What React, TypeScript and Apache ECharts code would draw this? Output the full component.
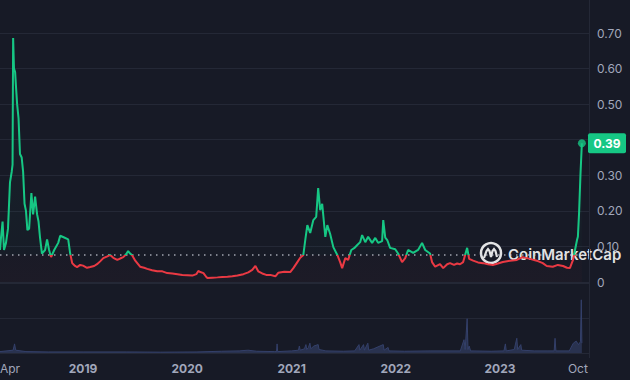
import React, { useEffect, useRef } from "react";
import * as echarts from "echarts";

const dates = [
  "2018-03-16","2018-03-19","2018-03-25","2018-03-30","2018-04-06","2018-04-13","2018-04-20","2018-04-26","2018-04-29","2018-05-01",
  "2018-05-04","2018-05-08","2018-05-11","2018-05-15","2018-05-20","2018-05-25","2018-05-31","2018-06-05","2018-06-10","2018-06-15",
  "2018-06-20","2018-06-26","2018-07-04","2018-07-10","2018-07-17","2018-07-24","2018-07-29","2018-08-03","2018-08-10","2018-08-21",
  "2018-08-28","2018-09-04","2018-09-11","2018-09-22","2018-10-06","2018-10-13","2018-10-27","2018-11-10","2018-11-17","2018-11-24",
  "2018-12-04","2018-12-11","2018-12-22","2019-01-01","2019-01-15","2019-01-26","2019-02-09","2019-02-19","2019-03-02","2019-03-13",
  "2019-03-27","2019-04-06","2019-04-17","2019-05-01","2019-05-11","2019-05-22","2019-06-01","2019-06-08","2019-06-15","2019-06-22",
  "2019-07-03","2019-07-10","2019-07-20","2019-08-03","2019-08-14","2019-08-31","2019-09-18","2019-10-06","2019-10-23","2019-11-10",
  "2019-11-28","2019-12-15","2020-01-02","2020-01-19","2020-02-02","2020-02-09","2020-02-16","2020-02-27","2020-03-08","2020-03-12",
  "2020-03-29","2020-04-16","2020-05-03","2020-05-21","2020-06-07","2020-06-25","2020-07-16","2020-08-02","2020-08-16","2020-08-27",
  "2020-09-06","2020-09-20","2020-10-04","2020-10-18","2020-11-05","2020-11-15","2020-12-06","2020-12-27","2021-01-07","2021-01-21",
  "2021-01-31","2021-02-11","2021-02-18","2021-02-25","2021-03-07","2021-03-18","2021-03-28","2021-04-04","2021-04-11","2021-04-18",
  "2021-04-29","2021-05-06","2021-05-16","2021-05-27","2021-06-10","2021-06-20","2021-06-27","2021-07-08","2021-07-18","2021-07-29",
  "2021-08-08","2021-08-19","2021-08-29","2021-09-05","2021-09-16","2021-09-26","2021-10-10","2021-10-21","2021-10-31","2021-11-14",
  "2021-11-18","2021-11-25","2021-12-02","2021-12-12","2021-12-30","2022-01-09","2022-01-23","2022-02-03","2022-02-13","2022-03-03",
  "2022-03-20","2022-04-03","2022-04-14","2022-05-01","2022-05-08","2022-05-19","2022-06-05","2022-06-16","2022-06-30","2022-07-10",
  "2022-07-24","2022-08-04","2022-08-14","2022-08-25","2022-09-08","2022-09-15","2022-09-29","2022-10-16","2022-11-03","2022-11-20",
  "2022-12-07","2022-12-25","2023-01-11","2023-02-05","2023-03-01","2023-03-22","2023-04-16","2023-05-10","2023-05-31","2023-06-14",
  "2023-07-05","2023-07-23","2023-08-10","2023-08-24","2023-09-03","2023-09-14","2023-09-21","2023-09-28","2023-10-01","2023-10-05",
  "2023-10-10","2023-10-15"
];

const prices = [
  0.09,0.12,0.17,0.09,0.11,0.15,0.28,0.31,0.33,0.686,
  0.6,0.59,0.55,0.5,0.46,0.36,0.35,0.31,0.22,0.2,
  0.146,0.15,0.25,0.19,0.24,0.19,0.17,0.127,0.08,0.09,
  0.12,0.09,0.07,0.09,0.11,0.13,0.125,0.12,0.08,0.053,
  0.045,0.042,0.048,0.046,0.04,0.042,0.045,0.05,0.058,0.067,
  0.072,0.076,0.068,0.062,0.066,0.07,0.078,0.087,0.08,0.075,
  0.06,0.053,0.043,0.04,0.037,0.033,0.03,0.03,0.025,0.024,
  0.022,0.02,0.019,0.018,0.022,0.031,0.028,0.025,0.014,0.011,
  0.012,0.013,0.014,0.015,0.016,0.018,0.022,0.027,0.034,0.045,
  0.03,0.024,0.02,0.02,0.016,0.026,0.029,0.028,0.039,0.056,
  0.068,0.076,0.12,0.16,0.138,0.174,0.183,0.264,0.202,0.22,
  0.127,0.16,0.135,0.098,0.076,0.056,0.039,0.067,0.062,0.09,
  0.095,0.104,0.112,0.132,0.112,0.127,0.11,0.124,0.11,0.115,
  0.174,0.125,0.118,0.096,0.092,0.08,0.056,0.067,0.09,0.082,
  0.09,0.11,0.09,0.08,0.056,0.043,0.05,0.039,0.05,0.053,
  0.048,0.052,0.05,0.056,0.096,0.065,0.06,0.055,0.053,0.05,
  0.048,0.052,0.056,0.06,0.062,0.07,0.065,0.06,0.053,0.045,
  0.043,0.048,0.045,0.04,0.039,0.062,0.09,0.118,0.127,0.19,
  0.3,0.39
];

const volDates = [
  "2018-03-16","2018-05-01","2018-05-06","2018-05-10","2018-06-15","2018-09-01","2019-01-01","2019-06-01","2019-10-01","2020-02-01",
  "2020-05-01","2020-07-01","2020-08-01","2020-09-01","2020-11-01","2020-11-09","2020-11-11","2020-11-13","2021-01-01","2021-01-25",
  "2021-01-28","2021-01-31","2021-02-15","2021-02-20","2021-02-23","2021-03-01","2021-03-06","2021-03-09","2021-03-20","2021-04-04",
  "2021-04-07","2021-05-01","2021-07-01","2021-08-10","2021-08-25","2021-08-28","2021-09-10","2021-09-13","2021-09-25","2021-09-28",
  "2021-10-15","2021-11-18","2021-11-21","2021-12-05","2021-12-08","2022-02-01","2022-05-01","2022-08-15","2022-08-28","2022-09-01",
  "2022-09-08","2022-09-11","2022-09-15","2022-09-20","2022-12-01","2023-01-15","2023-01-20","2023-01-23","2023-02-20","2023-03-01",
  "2023-03-04","2023-03-15","2023-03-18","2023-05-01","2023-06-15","2023-07-10","2023-07-13","2023-07-16","2023-09-01","2023-09-15",
  "2023-09-25","2023-10-03","2023-10-10","2023-10-13","2023-10-15"
];

const volumes = [
  2,4,13,4,2,1.5,1.5,1.5,1.2,1.5,
  2.5,3,4,2.5,2,2,13,2,3,4,
  10,4,6,12,5,8,14,6,10,12,
  5,3,2.5,3,12,4,12,4,14,4,
  6,12,4,8,3,2.5,3,3,19,5,
  49,5,10,3,2.5,3,13,3,5,21,
  5,12,4,3,3,3,21,3,3,14,
  17,12,16,76,14
];

const axisLabelDates = ["2018-04-01","2019-01-01","2020-01-01","2021-01-01","2022-01-01","2023-01-01","2023-10-01"];
const axisLabelTexts = ["Apr","2019","2020","2021","2022","2023","Oct"];
const baseline = 0.076;
const xStart = "2018-03-16";
const xEnd = "2023-11-09";

const ts = (s: string) => {
  const [y, m, d] = s.split("-").map(Number);
  return Date.UTC(y, m - 1, d);
};

const GREEN = "#16c784";
const RED = "#ea3943";
const BG = "#171a26";
const GRIDLINE = "#242836";
const LABEL = "#a1a7bb";
const FONT = "Inter, 'Noto Sans', sans-serif";

export default function App() {
  const ref = useRef<HTMLDivElement>(null);

  useEffect(() => {
    if (!ref.current) return;
    const chart = echarts.init(ref.current, undefined, { renderer: "svg" });
    const priceData = dates.map((d, i) => [ts(d), prices[i]]);
    const volData = volDates.map((d, i) => [ts(d), volumes[i]]);
    const lastIdx = prices.length - 1;
    const lastPoint = [ts(dates[lastIdx]), prices[lastIdx]];
    const tagValue = Math.round(prices[lastIdx] * 10) / 10;

    chart.setOption({
      animation: false,
      backgroundColor: BG,
      textStyle: { fontFamily: FONT },
      grid: [
        { left: 0, right: 41, top: 33, height: 249 },
        { left: 0, right: 41, top: 283, height: 70 }
      ],
      xAxis: [
        {
          type: "value",
          gridIndex: 0,
          min: ts(xStart),
          max: ts(xEnd),
          axisLine: { show: false },
          axisTick: { show: false },
          axisLabel: { show: false },
          splitLine: { show: false }
        },
        {
          type: "value",
          gridIndex: 1,
          min: ts(xStart),
          max: ts(xEnd),
          axisLine: { show: false },
          axisTick: { show: false },
          axisLabel: { show: false },
          splitLine: { show: false }
        }
      ],
      yAxis: [
        {
          type: "value",
          gridIndex: 0,
          position: "right",
          min: 0,
          max: 0.7,
          interval: 0.1,
          axisLine: { show: false },
          axisTick: { show: false },
          splitLine: { lineStyle: { color: GRIDLINE, width: 1 } },
          axisLabel: {
            margin: 8,
            color: LABEL,
            fontSize: 12,
            fontFamily: FONT,
            formatter: (v: number) =>
              Math.abs(v - tagValue) < 1e-9 ? "" : v === 0 ? "0" : v.toFixed(2)
          }
        },
        {
          type: "value",
          gridIndex: 1,
          min: 0,
          max: 100,
          interval: 50,
          axisLine: { show: false },
          axisTick: { show: false },
          axisLabel: { show: false },
          splitLine: { lineStyle: { color: GRIDLINE, width: 1 } }
        }
      ],
      series: [
        {
          id: "price",
          type: "line",
          xAxisIndex: 0,
          yAxisIndex: 0,
          data: priceData,
          showSymbol: false,
          lineStyle: { width: 2, color: GREEN },
          z: 3
        },
        {
          type: "line",
          xAxisIndex: 0,
          yAxisIndex: 0,
          data: [[ts(xStart), baseline], [ts(xEnd), baseline]],
          showSymbol: false,
          silent: true,
          lineStyle: { color: "rgba(205,210,222,0.75)", type: [1.5, 4.5], width: 1.5 },
          z: 2
        },
        {
          type: "scatter",
          xAxisIndex: 0,
          yAxisIndex: 0,
          data: [lastPoint],
          symbolSize: 8,
          itemStyle: { color: GREEN },
          z: 4
        },
        {
          type: "line",
          xAxisIndex: 1,
          yAxisIndex: 1,
          data: volData,
          showSymbol: false,
          lineStyle: { color: "#34406a", width: 1 },
          areaStyle: { color: "#29324f", opacity: 1 },
          z: 2
        }
      ]
    });

    let py = 145;
    let by = 255;
    const labelXs: number[] = [];
    try {
      const p = chart.convertToPixel({ gridIndex: 0 }, lastPoint) as number[];
      if (p && isFinite(p[1])) py = p[1];
      const b = chart.convertToPixel({ yAxisIndex: 0 }, baseline) as number;
      if (isFinite(b)) by = b;
      axisLabelDates.forEach((d) => {
        const x = chart.convertToPixel({ xAxisIndex: 1 }, ts(d)) as number;
        labelXs.push(x);
      });
    } catch (e) {
      // keep defaults
    }

    const H = 380;
    const off = by / H;
    const lineGrad = new echarts.graphic.LinearGradient(0, 0, 0, H, [
      { offset: 0, color: GREEN },
      { offset: off, color: GREEN },
      { offset: off, color: RED },
      { offset: 1, color: RED }
    ], true);
    const areaGrad = new echarts.graphic.LinearGradient(0, 0, 0, H, [
      { offset: 0, color: "rgba(22,199,132,0.10)" },
      { offset: off, color: "rgba(22,199,132,0.02)" },
      { offset: off, color: "rgba(234,57,67,0.02)" },
      { offset: 1, color: "rgba(234,57,67,0.10)" }
    ], true);

    const labelGraphics = axisLabelTexts.map((t, i) => ({
      type: "text",
      z: 10,
      x: Math.max(labelXs[i] ?? 0, 10),
      y: 368,
      style: {
        text: t,
        fill: LABEL,
        font: (/^\d+$/.test(t) ? "bold " : "") + "12px " + FONT,
        align: "center",
        verticalAlign: "middle"
      }
    }));

    chart.setOption({
      series: [
        {
          id: "price",
          lineStyle: { width: 2, color: lineGrad },
          areaStyle: { color: areaGrad, origin: "start" }
        }
      ],
      graphic: [
        {
          type: "line",
          shape: { x1: 589.5, y1: 0, x2: 589.5, y2: 358 },
          style: { stroke: GRIDLINE, lineWidth: 1 },
          z: 1
        },
        ...labelGraphics,
        {
          type: "group",
          z: 20,
          children: [
            {
              type: "circle",
              shape: { cx: 491, cy: 253, r: 10 },
              style: { fill: "none", stroke: "rgba(255,255,255,0.88)", lineWidth: 2.5 }
            },
            {
              type: "polyline",
              shape: {
                points: [
                  [484, 258], [486.5, 251], [488, 249], [489.5, 251], [491, 257],
                  [492.5, 251], [494, 249], [495.5, 251], [497, 257]
                ]
              },
              style: { fill: "none", stroke: "rgba(255,255,255,0.88)", lineWidth: 2.2 }
            },
            {
              type: "text",
              x: 508,
              y: 254,
              style: {
                text: "CoinMarketCap",
                fill: "rgba(255,255,255,0.88)",
                font: "600 15px " + FONT,
                verticalAlign: "middle",
                align: "left"
              }
            }
          ]
        },
        {
          type: "rect",
          z: 30,
          shape: { x: 588, y: py - 10, width: 38, height: 20, r: 2 },
          style: { fill: GREEN }
        },
        {
          type: "text",
          z: 31,
          x: 607,
          y: py,
          style: {
            text: prices[lastIdx].toFixed(2),
            fill: "#ffffff",
            font: "bold 12px " + FONT,
            align: "center",
            verticalAlign: "middle"
          }
        }
      ]
    });

    return () => chart.dispose();
  }, []);

  return (
    <div
      ref={ref}
      style={{ position: "fixed", left: 0, top: 0, width: 630, height: 380 }}
    />
  );
}
